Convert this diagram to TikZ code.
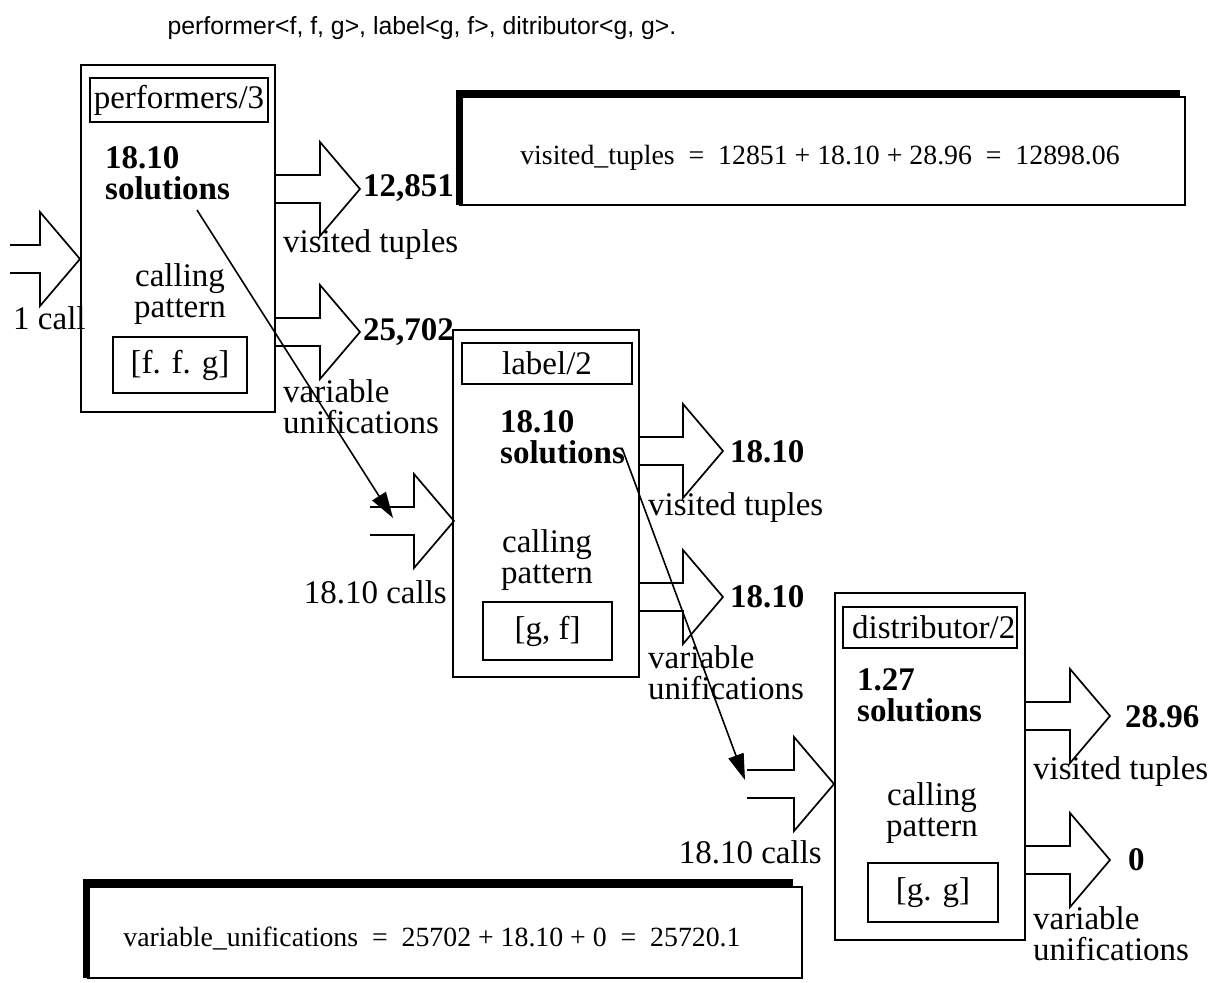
\documentclass[tikz,border=0pt]{standalone}
\usepackage{fontspec}
\setmainfont{Liberation Serif}
\newfontfamily\capfont{Liberation Sans}
\usetikzlibrary{arrows.meta,calc}

\tikzset{
  frame/.style={draw, line width=1.8pt, inner sep=0pt},
  txt/.style={inner sep=0pt, font=\fontsize{33}{31}\selectfont},
  boldtxt/.style={inner sep=0pt, align=left, font=\fontsize{33}{31}\selectfont\bfseries},
  formula/.style={inner sep=0pt, font=\fontsize{27.8}{29}\selectfont},
  caption/.style={inner sep=0pt, font=\capfont\fontsize{24.8}{26}\selectfont},
  shadowbar/.style={line width=7pt},
  link/.style={line width=1.6pt, -{Triangle[length=26pt,width=16pt]}},
  pics/blockarrow/.style={code={
    \draw[line width=1.7pt, line join=miter]
      (0,-14) -- (#1,-14) -- (#1,-47) -- (#1+40,0) -- (#1,47) -- (#1,14) -- (0,14);
  }}
}

\begin{document}
\begin{tikzpicture}[x=1pt,y=-1pt]
\useasboundingbox (0,0) rectangle (1222,982);

% heading line
\node[caption] (head) at (422,28) {performer<f, f, g>, label<g, f>, ditributor<g, g>.};

% ---------- performers/3 ----------
\node[frame, minimum width=194, minimum height=347] (p) at (178,238.5) {};
\node[frame, minimum width=178, minimum height=44] (ptitle) at (179,100) {};
\node[txt] (pname) at (179,100) {performers/3};
\node[boldtxt, anchor=west] (psol) at (105,173) {18.10\\solutions};
\node[txt, align=center] (ppat) at (180,294) {calling\\pattern};
\node[frame, minimum width=134, minimum height=56] (pargs) at (180,365) {};
\node[txt] (pargt) at (180,365) {[f. f. g]};

\pic at (10,259) {blockarrow=30};
\node[txt, anchor=west] (pcall) at (13,318) {1 call};
\pic at (275,189) {blockarrow=45};
\node[boldtxt, anchor=west] (pvt) at (363,188) {12,851};
\node[txt, anchor=west] (pvtl) at (283,245) {visited tuples};
\pic at (275,332) {blockarrow=45};
\node[boldtxt, anchor=west] (pvu) at (363,332) {25,702};
\node[txt, anchor=west, align=left] (pvul) at (283,407) {variable\\unifications};

% ---------- label/2 ----------
\node[frame, minimum width=186, minimum height=347] (l) at (546,503.5) {};
\node[frame, minimum width=170, minimum height=41] (ltitle) at (547,363.5) {};
\node[txt] (lname) at (547,363.5) {label/2};
\node[boldtxt, anchor=west] (lsol) at (500,437) {18.10\\solutions};
\node[txt, align=center] (lpat) at (547,560) {calling\\pattern};
\node[frame, minimum width=129, minimum height=58] (largs) at (547.5,631) {};
\node[txt] (largt) at (547.5,631) {[g, f]};

\pic at (370,521) {blockarrow=44};
\node[txt, anchor=east] (lcall) at (447,592) {18.10 calls};
\pic at (639,451) {blockarrow=44};
\node[boldtxt, anchor=west] (lvt) at (730,452) {18.10};
\node[txt, anchor=west] (lvtl) at (648,508) {visited tuples};
\pic at (639,597) {blockarrow=44};
\node[boldtxt, anchor=west] (lvu) at (730,597) {18.10};
\node[txt, anchor=west, align=left] (lvul) at (648,673) {variable\\unifications};

% ---------- distributor/2 ----------
\node[frame, minimum width=190, minimum height=347] (d) at (930,766.5) {};
\node[frame, minimum width=174, minimum height=41] (dtitle) at (930,627.5) {};
\node[txt, anchor=west] (dname) at (852,627.5) {distributor/2};
\node[boldtxt, anchor=west] (dsol) at (857,695) {1.27\\solutions};
\node[txt, align=center] (dpat) at (932,813) {calling\\pattern};
\node[frame, minimum width=130, minimum height=59] (dargs) at (933,892.5) {};
\node[txt] (dargt) at (933,892.5) {[g. g]};

\pic at (747,784) {blockarrow=47};
\node[txt, anchor=east] (dcall) at (822,852) {18.10 calls};
\pic at (1025,716) {blockarrow=45};
\node[boldtxt, anchor=west] (dvt) at (1125,717) {28.96};
\node[txt, anchor=west] (dvtl) at (1033,772) {visited tuples};
\pic at (1025,860) {blockarrow=45};
\node[boldtxt, anchor=west] (dvu) at (1128,860) {0};
\node[txt, anchor=west, align=left] (dvul) at (1033,934) {variable\\unifications};

% ---------- solutions feed the next call ----------
\coordinate (s1) at (197,210);
\coordinate (t1) at (393,518);
\draw[link] (s1) -- (t1);
\coordinate (s2) at (622,448);
\coordinate (t2) at (745,780);
\draw[link] (s2) -- (t2);

% ---------- totals ----------
\node[frame, line width=1.5pt, minimum width=725, minimum height=108] (vt) at (822.5,151) {};
\draw[shadowbar] (459,205) -- (459,93.5) -- (1180,93.5);
\node[formula] (vtt) at (820,158) {visited\_tuples \ = \ 12851 + 18.10 + 28.96 \ = \ 12898.06};

\node[frame, line width=1.5pt, minimum width=714, minimum height=91] (vu) at (445,932.5) {};
\draw[shadowbar] (86.5,978) -- (86.5,882.5) -- (793,882.5);
\node[formula] (vut) at (432,938) {variable\_unifications \ = \ 25702 + 18.10 + 0 \ = \ 25720.1};
\end{tikzpicture}
\end{document}
